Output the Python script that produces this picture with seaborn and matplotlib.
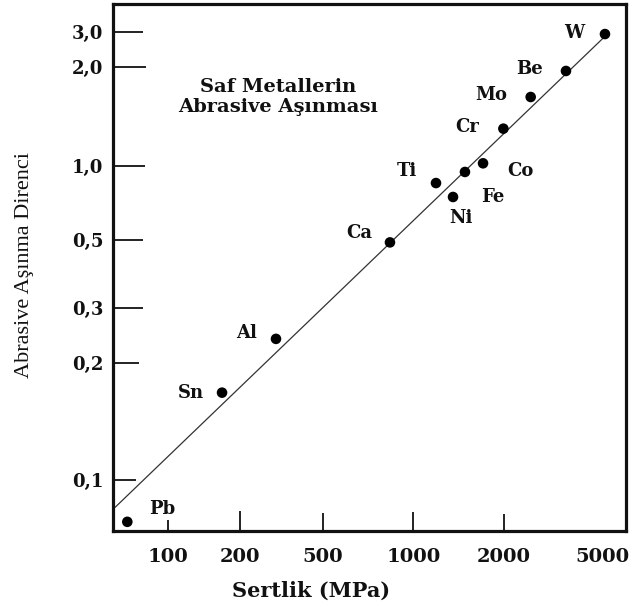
import numpy as np
import pandas as pd
import matplotlib
matplotlib.use("Agg")
import matplotlib.pyplot as plt
import seaborn as sns

# ---------------- data ----------------
metals = ["Pb", "Sn", "Al", "Ca", "Ti", "Ni", "Fe", "Co", "Cr", "Mo", "Be", "W"]
hardness_mpa = [68, 168, 297, 836, 1190, 1356, 1486, 1707, 1995, 2572, 3574, 5140]
wear_resistance = [0.078, 0.168, 0.239, 0.490, 0.850, 0.746, 0.943, 1.017, 1.297, 1.62, 1.945, 2.92]

# trend line end points
line_hardness = [60.5, 5150]
line_resistance = [0.085, 2.85]

x_ticks = [100, 200, 500, 1000, 2000, 5000]
x_tick_labels = ["100", "200", "500", "1000", "2000", "5000"]
y_ticks = [0.1, 0.2, 0.3, 0.5, 1.0, 2.0, 3.0]
y_tick_labels = ["0,1", "0,2", "0,3", "0,5", "1,0", "2,0", "3,0"]

title_text = "Saf Metallerin\nAbrasive Aşınması"
x_label = "Sertlik (MPa)"
y_label = "Abrasive Aşınma Direnci"

# ---------------- axis calibration of the (hand drawn) scales ----------------
# pixel position of each tick in the original figure
X_TICK_PX = [167.7, 240.3, 323.0, 413.3, 503.7, 602.0]
Y_TICK_PX = [480.0, 363.3, 307.7, 239.7, 165.7, 67.0, 31.7]


def make_scale(tick_vals, tick_pos):
    lg = np.log10(np.asarray(tick_vals, float))
    ps = np.asarray(tick_pos, float)
    s0 = (ps[1] - ps[0]) / (lg[1] - lg[0])
    s1 = (ps[-1] - ps[-2]) / (lg[-1] - lg[-2])

    def fwd(v):
        v = np.asarray(v, float)
        l = np.log10(np.where(v > 0, v, 1e-12))
        out = np.interp(l, lg, ps)
        out = np.where(l < lg[0], ps[0] + (l - lg[0]) * s0, out)
        out = np.where(l > lg[-1], ps[-1] + (l - lg[-1]) * s1, out)
        return out

    def inv(p):
        p = np.asarray(p, float)
        l = np.interp(p, ps, lg)
        l = np.where(p < ps[0], lg[0] + (p - ps[0]) / s0, l)
        l = np.where(p > ps[-1], lg[-1] + (p - ps[-1]) / s1, l)
        return 10.0 ** l

    return fwd, inv


fx, ix = make_scale(x_ticks, X_TICK_PX)
fy, iy = make_scale(y_ticks, [-p for p in Y_TICK_PX])

# ---------------- figure ----------------
sns.set_style("white")
plt.rcParams["font.family"] = ["DejaVu Serif"]

W, H = 635, 607
L, R, T, B = 113, 626, 4, 531
fig = plt.figure(figsize=(W / 100, H / 100), dpi=100)
ax = fig.add_axes([L / W, (H - B) / H, (R - L) / W, (B - T) / H])

ax.set_xscale("function", functions=(fx, ix))
ax.set_yscale("function", functions=(fy, iy))

df = pd.DataFrame({"h": hardness_mpa, "r": wear_resistance, "m": metals})
ln = pd.DataFrame({"h": line_hardness, "r": line_resistance})

sns.lineplot(data=ln, x="h", y="r", ax=ax, color="#333333", linewidth=0.9,
             sort=False, estimator=None)
sns.scatterplot(data=df, x="h", y="r", ax=ax, color="black", s=58,
                edgecolor="none", zorder=5)

ax.set_xlim(float(ix(L)), float(ix(R)))
ax.set_ylim(float(iy(-B)), float(iy(-T)))

# label offsets in pixels (dx, dy up)
offsets = {
    "W": (-31, 1), "Be": (-36, 2), "Mo": (-39, 2), "Cr": (-36, 2),
    "Co": (37, -8), "Ti": (-29, 12), "Fe": (28, -25), "Ni": (8, -21),
    "Ca": (-31, 9), "Al": (-29, 6), "Sn": (-31, 0), "Pb": (35, 13),
}
for m, h, r in zip(metals, hardness_mpa, wear_resistance):
    dx, dy = offsets[m]
    ax.annotate(m, (h, r), xytext=(dx, dy), textcoords="offset pixels",
                ha="center", va="center", fontsize=13, fontweight="bold",
                family="DejaVu Serif", color="#111111")

ax.text((278 - L) / (R - L), (B - 97) / (B - T), title_text,
        transform=ax.transAxes, ha="center", va="center", fontsize=14,
        fontweight="bold", family="DejaVu Serif", linespacing=1.2,
        color="#111111")

# ticks
ax.xaxis.set_major_locator(matplotlib.ticker.FixedLocator(x_ticks))
ax.xaxis.set_minor_locator(matplotlib.ticker.NullLocator())
ax.set_xticklabels(x_tick_labels)
ax.yaxis.set_major_locator(matplotlib.ticker.FixedLocator(y_ticks))
ax.yaxis.set_minor_locator(matplotlib.ticker.NullLocator())
ax.set_yticklabels(y_tick_labels)

ax.tick_params(axis="x", which="major", bottom=True, top=False, direction="in",
               length=13, width=1.3, pad=12, labelsize=14, colors="#111111")
ax.tick_params(axis="y", which="major", left=True, right=False, direction="in",
               length=21, width=1.3, pad=7, labelsize=13, colors="#111111")
for lab in ax.get_xticklabels() + ax.get_yticklabels():
    lab.set_fontweight("bold")
    lab.set_family("DejaVu Serif")

x_len_px = [11, 20, 18, 19, 17, 0]
for t, lp in zip(ax.xaxis.get_major_ticks(), x_len_px):
    t.tick1line.set_markersize(lp * 0.72)
    if lp == 0:
        t.tick1line.set_visible(False)
y_len_px = [23, 26, 30, 30, 32, 33, 30]
for t, lp in zip(ax.yaxis.get_major_ticks(), y_len_px):
    t.tick1line.set_markersize(lp * 0.72)

for s in ax.spines.values():
    s.set_linewidth(2.3)
    s.set_color("#111111")

ax.set_xlabel(x_label, fontsize=15, fontweight="bold", family="DejaVu Serif",
              color="#111111")
ax.xaxis.set_label_coords((311.5 - L) / (R - L), (B - 581) / (B - T))
ax.set_ylabel(y_label, fontsize=16, family="Liberation Serif", color="#111111")
ax.yaxis.set_label_coords((34 - L) / (R - L), (B - 264.5) / (B - T))

fig.savefig("out.png", dpi=100, facecolor="white")
